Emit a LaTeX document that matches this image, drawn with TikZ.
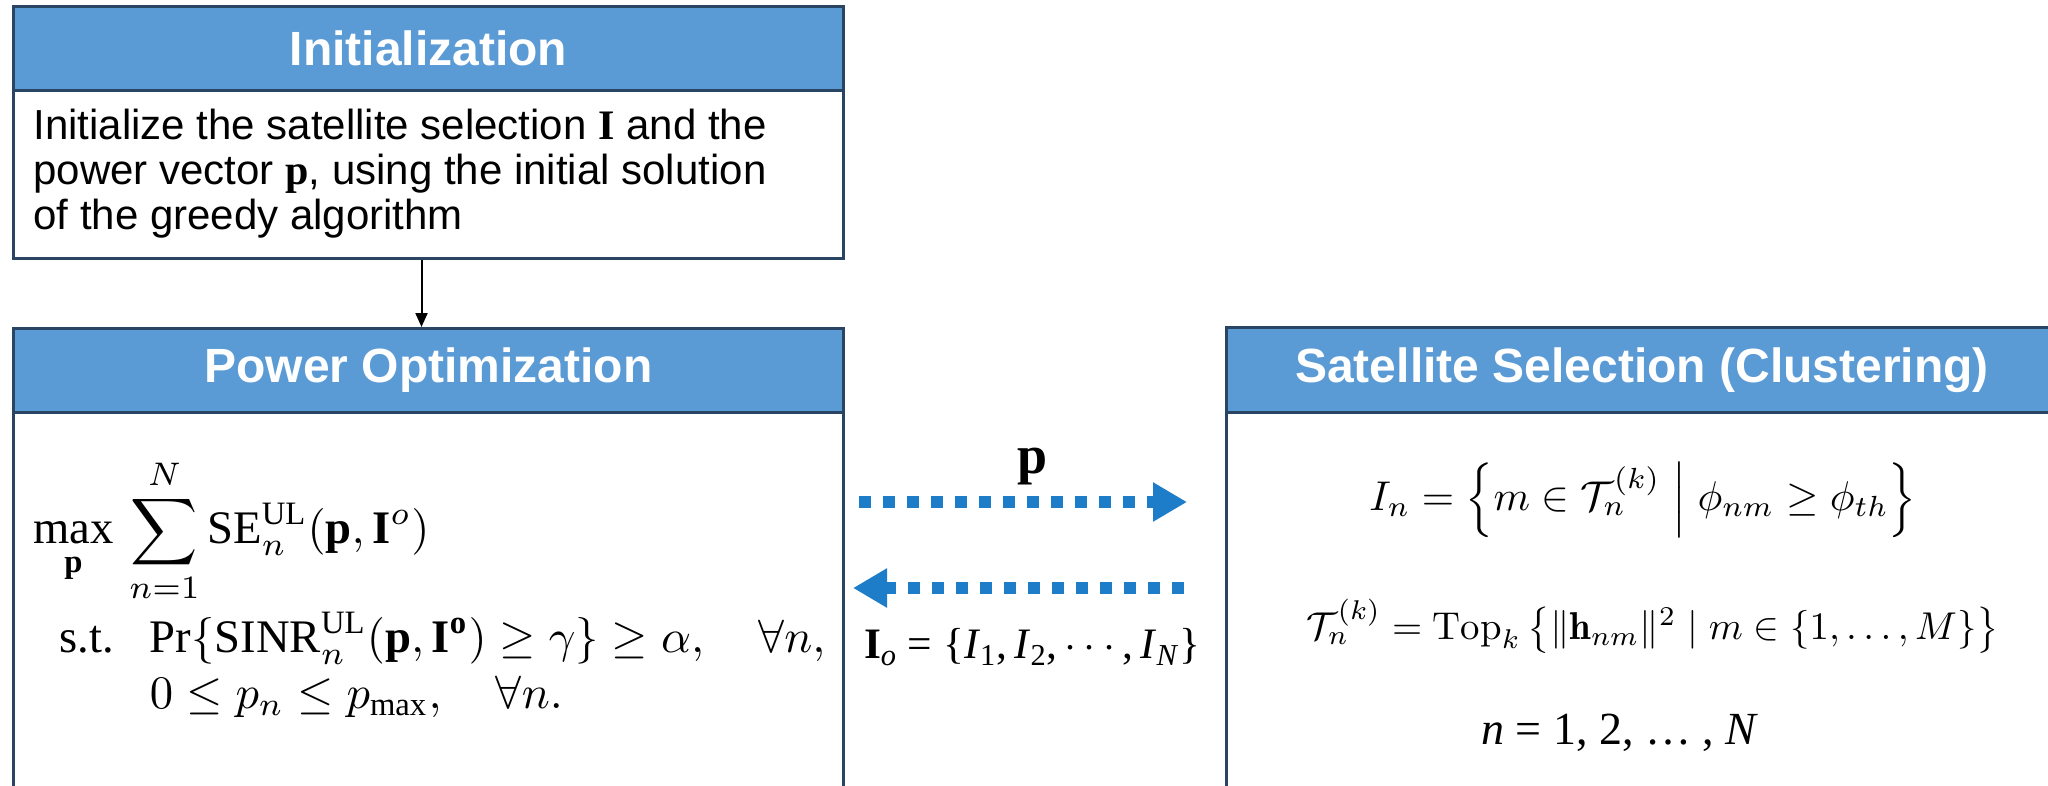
\documentclass[tikz,border=0pt]{standalone}
\usepackage{amsmath,amssymb}
\usepackage{graphicx}
\usepackage{fontspec}
\newfontfamily\arial{Liberation Sans}
\newfontfamily\tnr{Liberation Serif}
\usetikzlibrary{arrows.meta}
\definecolor{hdrblue}{HTML}{5B9BD5}
\definecolor{bordr}{HTML}{2A4563}
\definecolor{arrblue}{HTML}{1E7DC8}
\newcommand{\tr}[1]{\text{\tnr #1}}
\newcommand{\tb}[1]{\text{\tnr\bfseries #1}}
\begin{document}
\begin{tikzpicture}[x=0.5pt,y=-0.5pt,
  box/.style={draw=bordr, line width=1.5pt, fill=white, rectangle, inner sep=0pt, anchor=north west},
  hdr/.style={draw=bordr, line width=1.5pt, fill=hdrblue, rectangle, inner sep=0pt, anchor=north west, text=white, font=\arial\fontsize{24}{28}\selectfont\bfseries},
  body/.style={inner sep=0pt, font=\arial\fontsize{21}{22.5}\selectfont, align=left, anchor=north west},
  flow/.style={-{Triangle[length=7pt,width=6pt]}, line width=1pt, black},
  dotarrow/.style={arrblue, line width=6pt, dash pattern=on 6pt off 6pt, -{Triangle[length=17pt,width=18.5pt]}},
  lbl/.style={inner sep=0pt}
]
\useasboundingbox (0,0) rectangle (2048,786);
\clip (0,0) rectangle (2048,786);

% Initialization
\node[box, minimum width=415pt, minimum height=126pt] (init) at (12,5) {};
\node[hdr, minimum width=415pt, minimum height=42pt] (inithdr) at (12,5) {Initialization};
\node[body] (inittxt) at (33,109) {Initialize the satellite selection {\tnr\bfseries I} and the\\power vector {\tnr\bfseries p}, using the initial solution\\of the greedy algorithm};

% Power optimization
\node[box, minimum width=415pt, minimum height=240pt] (po) at (12,327) {};
\node[hdr, minimum width=415pt, minimum height=42pt] (pohdr) at (12,327) {Power Optimization};
\node[lbl, anchor=west] (pof) at (33,592) {\resizebox{396pt}{!}{$\begin{aligned}
\mathop{\tr{max}}\limits_{\tb{p}} & \, \displaystyle\sum_{n=1}^{N}\tr{SE}_n^{\tr{UL}}(\tb{p},\tb{I}^{o})\\[-2pt]
\tr{s.t.} & \enskip\; \tr{Pr}\{\tr{SINR}_n^{\tr{UL}}(\tb{p},\tb{I}^{\tb{o}})\geq\gamma\}\geq\alpha,\quad\forall n,\\[-3pt]
& \enskip\; 0\leq p_n\leq p_{\tr{max}},\quad\forall n.
\end{aligned}$}};

% Satellite selection
\node[box, minimum width=415.5pt, minimum height=240pt] (ss) at (1225,326) {};
\node[hdr, minimum width=415.5pt, minimum height=42.5pt] (sshdr) at (1225,326) {Satellite Selection (Clustering)};
\node[lbl] (f1) at (1643,500) {\resizebox{273.5pt}{!}{$I_n=\left\{m\in\mathcal{T}_n^{(k)}\;\middle|\;\phi_{nm}\geq\phi_{th}\right\}$}};
\node[lbl] (f2) at (1653,626) {\resizebox{346pt}{!}{$\mathcal{T}_n^{(k)}=\mathrm{Top}_k\,\bigl\{\|\mathbf{h}_{nm}\|^2\mid m\in\{1,\dots,M\}\bigr\}$}};
\node[lbl] (f3) at (1620,733) {\tnr\fontsize{23}{26}\selectfont\textit{n} = 1, 2, … , \textit{N}};

% connectors
\draw[flow] ([xshift=-3.5pt]init.south) -- ([xshift=-3.5pt]po.north);
\coordinate (pa) at (859,502);
\coordinate (pb) at (1187,502);
\draw[dotarrow] (pa) -- (pb);
\coordinate (ia) at (1184,588);
\coordinate (ib) at (853,588);
\draw[dotarrow] (ia) -- (ib);
\node[lbl] (plbl) at (1032,467) {\tnr\fontsize{27}{30}\selectfont\bfseries p};
\node[lbl] (iolbl) at (1032,647) {\resizebox{168pt}{!}{\tnr\fontsize{25}{30}\selectfont\textbf{I}\textsubscript{\textit{o}} = \{\textit{I}\textsubscript{1},\,\textit{I}\textsubscript{2},\,$\cdots$,\,\textit{I}\textsubscript{\textit{N}}\}}};
\end{tikzpicture}
\end{document}
